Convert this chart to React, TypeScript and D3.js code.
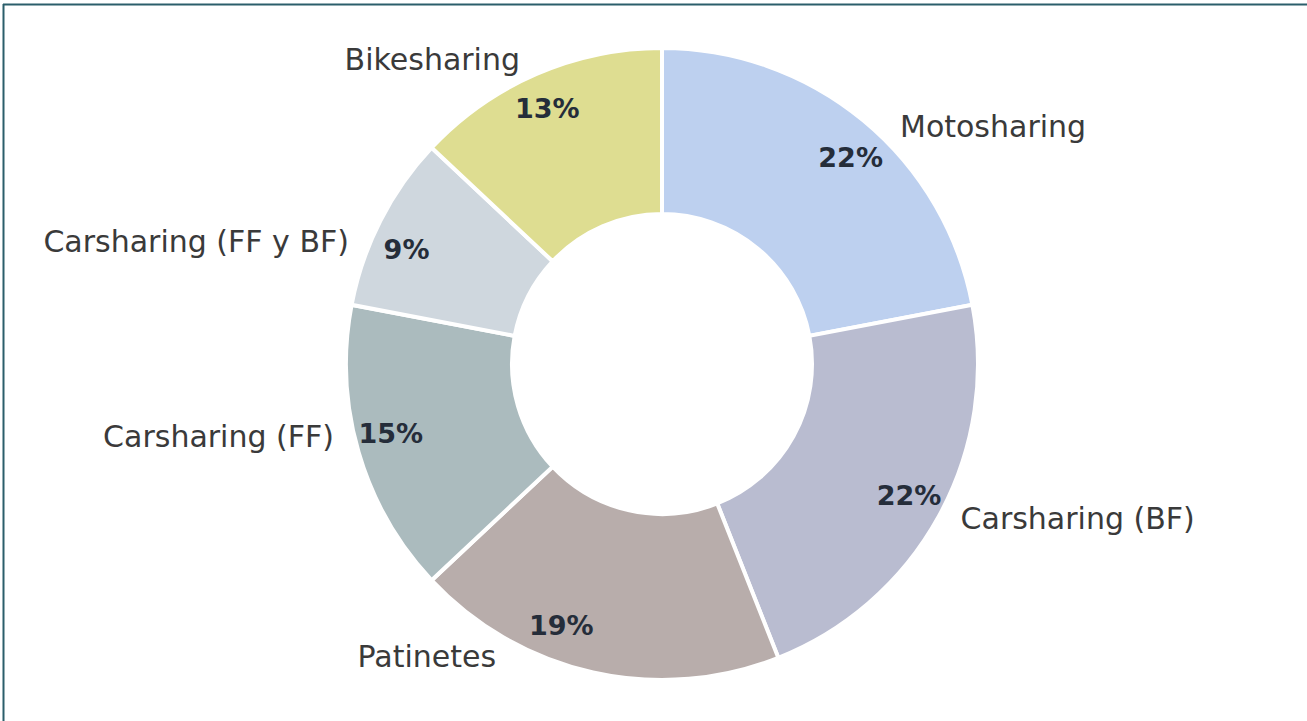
import React from 'react';
import * as d3 from 'd3';

// shares of each shared-mobility service (%)
const categories = [
  'Motosharing',
  'Carsharing (BF)',
  'Patinetes',
  'Carsharing (FF)',
  'Carsharing (FF y BF)',
  'Bikesharing',
];
const shares = [22, 22, 19, 15, 9, 13];
const sliceColors = ['#bdd0ef', '#b9bcd0', '#b8adab', '#abbbbe', '#cfd7de', '#dedd91'];
// hand nudges (degrees) so the outside labels sit like in the original
const labelShift = [5.5, -1.5, 17, 3.7, -5.7, -1.6];

const W = 1307;
const H = 721;
const cx = 662;
const cy = 364;
const outerR = 316;
const innerR = 150;
const font = '"DejaVu Sans", Roboto, sans-serif';

type Row = { name: string; value: number; color: string; shift: number };

const rows: Row[] = categories.map((name, i) => ({
  name,
  value: shares[i],
  color: sliceColors[i],
  shift: labelShift[i],
}));

export default function App() {
  const pie = d3
    .pie<Row>()
    .value(d => d.value)
    .sort(null);
  const arcs = pie(rows);
  const arc = d3.arc<d3.PieArcDatum<Row>>().innerRadius(innerR).outerRadius(outerR);

  const rad = (deg: number) => (deg * Math.PI) / 180;

  return (
    <svg
      width={W}
      height={H}
      style={{ position: 'absolute', left: 0, top: 0, background: '#fff' }}
    >
      <line x1={3} x2={W} y1={4.5} y2={4.5} stroke="#2b5e6b" strokeWidth={2} />
      <line x1={3.5} x2={3.5} y1={4} y2={H} stroke="#2b5e6b" strokeWidth={2} />
      <g transform={`translate(${cx},${cy})`}>
        {arcs.map((a, i) => (
          <path key={i} d={arc(a) || ''} fill={a.data.color} stroke="#fff" strokeWidth={4} />
        ))}
        {arcs.map((a, i) => {
          const mid = (a.startAngle + a.endAngle) / 2;
          const [px, py] = d3.pointRadial(mid + rad(a.data.shift / 2), 280);
          return (
            <text
              key={'p' + i}
              x={px}
              y={py}
              textAnchor="middle"
              dominantBaseline="central"
              fontFamily={font}
              fontWeight="bold"
              fontSize={27}
              fill="#252d3a"
            >
              {a.data.value}%
            </text>
          );
        })}
        {arcs.map((a, i) => {
          const mid = (a.startAngle + a.endAngle) / 2 + rad(a.data.shift);
          const [lx, ly] = d3.pointRadial(mid, 336);
          const right = Math.sin(mid) > 0;
          return (
            <text
              key={'l' + i}
              x={lx}
              y={ly}
              textAnchor={right ? 'start' : 'end'}
              dominantBaseline="central"
              fontFamily={font}
              fontSize={30}
              fill="#3a3a3a"
            >
              {a.data.name}
            </text>
          );
        })}
      </g>
    </svg>
  );
}
